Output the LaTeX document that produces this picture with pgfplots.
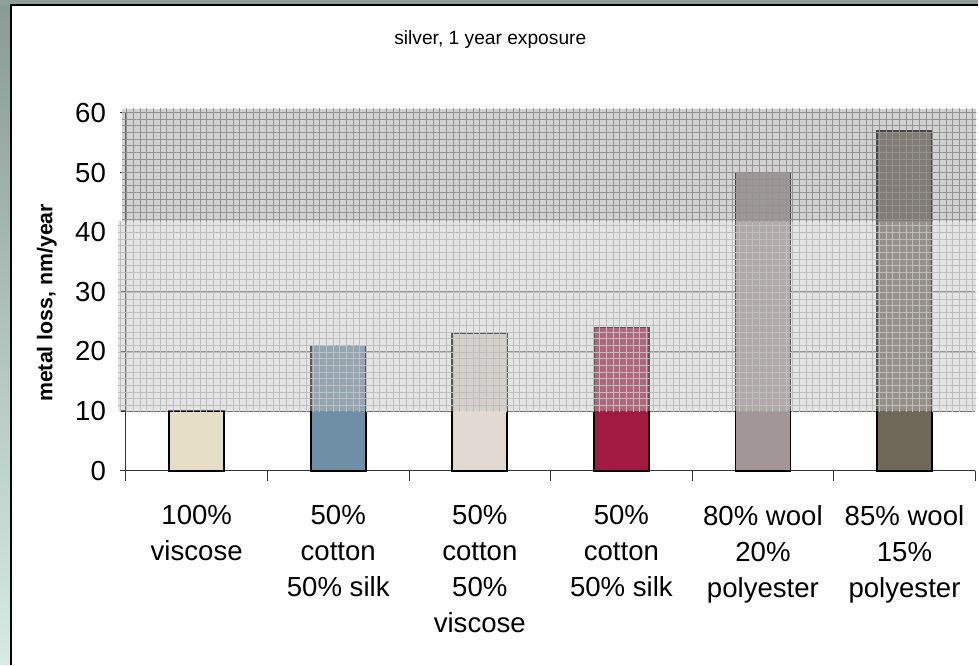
\documentclass[border=0pt]{standalone}
\usepackage{pgfplots}
\pgfplotsset{compat=1.18}
\usetikzlibrary{patterns.meta}
\usepackage{fontspec}
\setmainfont{Liberation Sans}

\definecolor{barA}{HTML}{E5DDC6}
\definecolor{barB}{HTML}{6F8FA6}
\definecolor{barC}{HTML}{E2DAD2}
\definecolor{barD}{HTML}{A01A42}
\definecolor{barE}{HTML}{A29696}
\definecolor{barF}{HTML}{6F6757}
\definecolor{bandlight}{HTML}{BEBEBE}
\definecolor{banddark}{HTML}{929292}
\definecolor{bandlightfill}{HTML}{C4C4C4}
\definecolor{banddarkfill}{HTML}{999999}
\definecolor{frametop}{HTML}{8A9A95}
\definecolor{framebot}{HTML}{D6EBE4}
\definecolor{framestrip}{HTML}{8E9E99}

\pgfplotsset{
  layers/mine/.define layer set={axis background,axis grid,main,axis ticks,axis lines,axis tick labels,axis descriptions,axis foreground}{},
}

\begin{document}
\begin{tikzpicture}
% frame around the chart
\fill[white] (0,0) rectangle (734.25pt,498.75pt);
\shade[top color=frametop, bottom color=framebot] (0,0) rectangle (8.25pt,498.75pt);
\fill[framestrip] (0,495pt) rectangle (734.25pt,498.75pt);
\draw[black, line width=1.1pt] (8.25pt,0) -- (8.25pt,495pt) -- (734.25pt,495pt);

\begin{axis}[
  set layers=mine,
  at={(94.5pt,145.5pt)}, anchor=south west,
  scale only axis, width=637.5pt, height=268.5pt,
  xmin=-0.5, xmax=5.5, ymin=0, ymax=60,
  clip=false,
  axis lines*=left,
  axis line style={draw=black!80, line width=0.8pt},
  ytick={0,10,...,60},
  xtick={0,...,5},
  xticklabels={100\%\\viscose, 50\%\\cotton\\50\% silk, 50\%\\cotton\\50\%\\viscose, 50\%\\cotton\\50\% silk, 80\% wool\\20\%\\polyester, 85\% wool\\15\%\\polyester},
  minor xtick={-0.5,0.5,...,5.5},
  tick align=outside,
  major tick length=4.5pt,
  minor tick length=7.5pt,
  major x tick style={draw=none},
  every tick/.style={draw=black!80, line width=0.8pt},
  ymajorgrids,
  major grid style={draw=black!55, line width=0.75pt},
  /pgf/number format/assume math mode=true,
  yticklabel style={font=\fontsize{20.7}{24}\selectfont, xshift=-7pt},
  xticklabel style={font=\fontsize{20.7}{27}\selectfont, align=center, anchor=north, yshift=-18pt},
  title={silver, 1 year exposure},
  every axis title/.style={at={(rel axis cs:0.429,1.204)}, anchor=center, font=\fontsize{14.4}{17}\selectfont},
  ylabel={metal loss, nm/year},
  every axis y label/.style={at={(rel axis cs:-0.093,0.469)}, rotate=90, anchor=center, font=\fontsize{16}{19}\selectfont\bfseries},
  ybar, bar width=41.25pt,
  every axis plot/.append style={bar shift=0pt},
]
\addplot[fill=barA, draw=black, line width=1.3pt] coordinates {(0,10)};
\addplot[fill=barB, draw=black, line width=1.3pt] coordinates {(1,21)};
\addplot[fill=barC, draw=black, line width=1.3pt] coordinates {(2,23)};
\addplot[fill=barD, draw=black, line width=1.3pt] coordinates {(3,24)};
\addplot[fill=barE, draw=black, line width=1.3pt] coordinates {(4,50)};
\addplot[fill=barF, draw=black, line width=1.3pt] coordinates {(5,57)};
% shaded bands laid over the bars
\addplot[sharp plot, draw=none, fill=bandlightfill, fill opacity=0.45,
  postaction={pattern={Hatch[angle=0,distance=5pt,line width=0.5pt]}, pattern color=bandlight}]
  coordinates {(-0.556,10) (5.507,10) (5.507,41.8) (-0.556,41.8)} -- cycle;
\addplot[sharp plot, draw=none, fill=banddarkfill, fill opacity=0.45,
  postaction={pattern={Hatch[angle=0,distance=5pt,line width=0.5pt]}, pattern color=banddark}]
  coordinates {(-0.528,41.8) (5.507,41.8) (5.507,60.67) (-0.528,60.67)} -- cycle;
\end{axis}
\end{tikzpicture}
\end{document}
